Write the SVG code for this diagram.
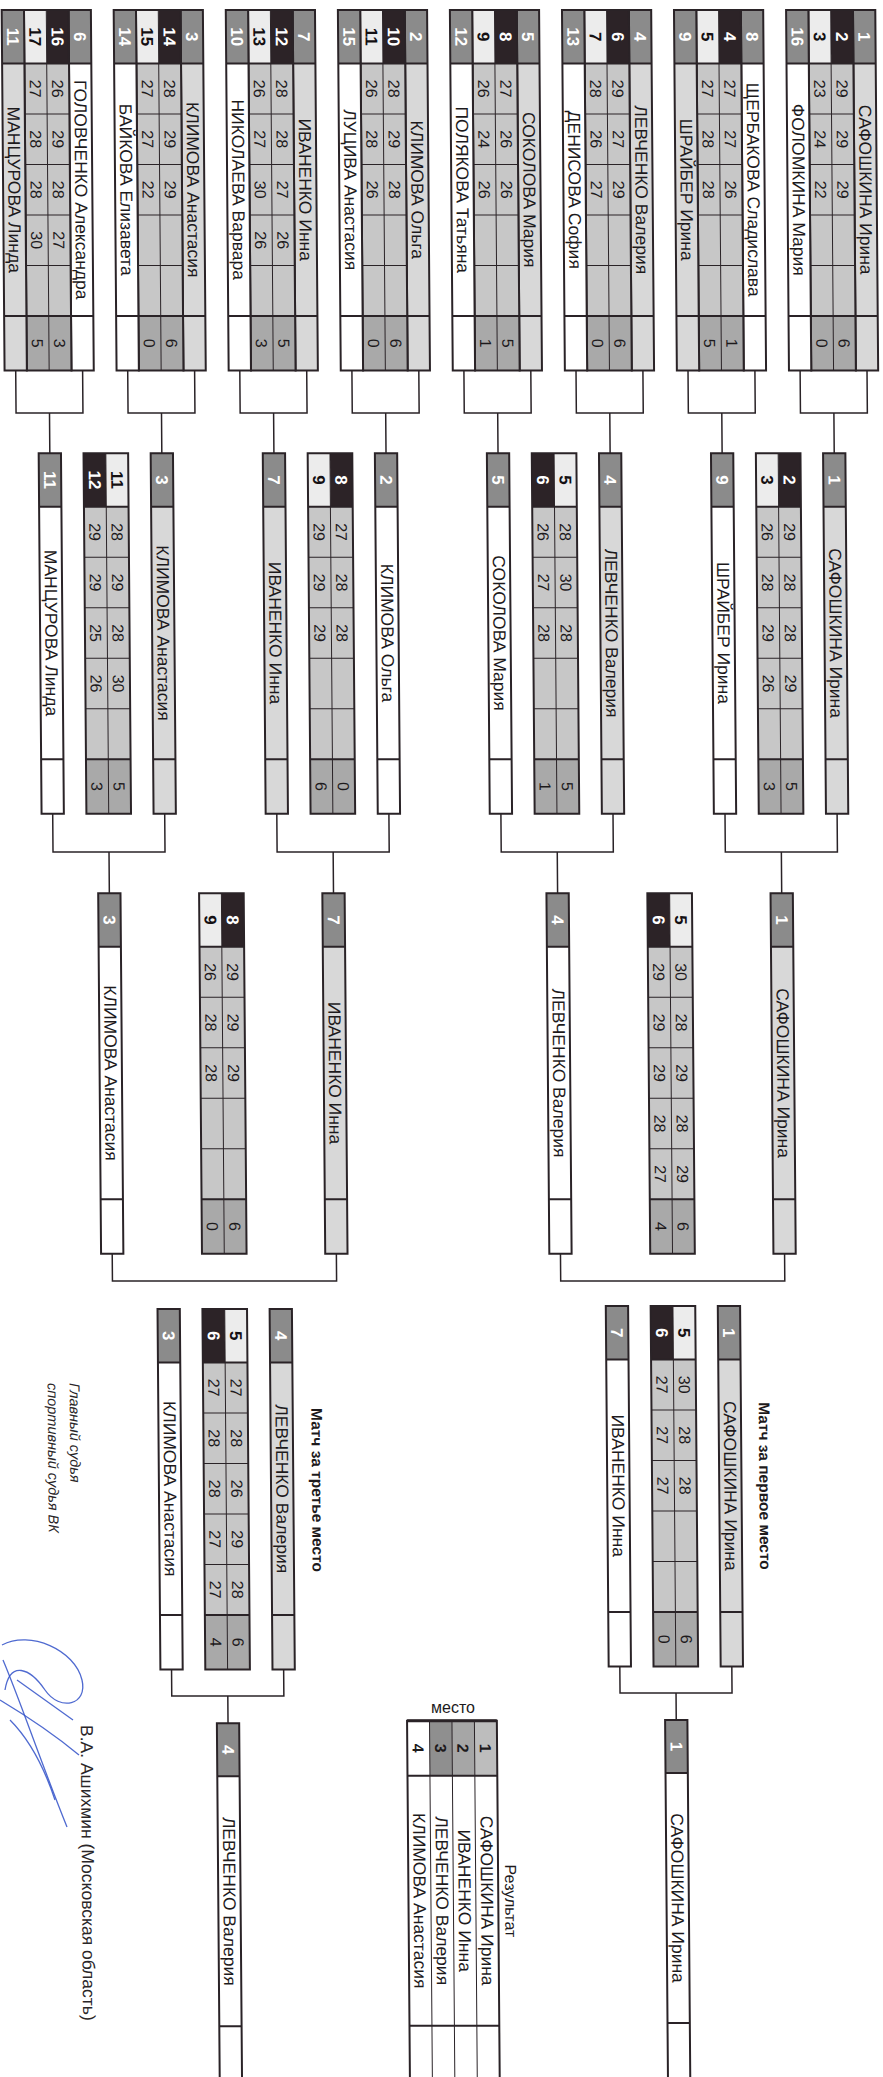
<svg xmlns="http://www.w3.org/2000/svg" width="883" height="2077" viewBox="0 0 883 2077">
<style>
.f{fill:none;stroke:#2a2327;stroke-width:2}
.t{fill:none;stroke:#2a2327;stroke-width:1}
.c{fill:none;stroke:#2a2327;stroke-width:1.5}
.gs{fill:#8b8b8b}
.ds{fill:#2c2327}
.ls{fill:#ececec}
.sc{fill:#c7c7c7}
.fc{fill:#a9a9a9}
.wn{fill:#d8d8d8}
.wh{fill:#ffffff}
text{font-family:"Liberation Sans",Arial,sans-serif;fill:#1d1a1c}
.n{font-size:17.5px;text-anchor:middle}
.s{font-size:16px;text-anchor:middle}
.sw{font-size:17px;font-weight:bold;fill:#ffffff;text-anchor:middle}
.sb{font-size:17px;font-weight:bold;fill:#141013;text-anchor:middle}
.pl{font-size:16px;font-weight:bold;text-anchor:middle}
.lbl{font-size:15.5px;font-weight:bold;text-anchor:middle}
.sig{font-size:14.5px;font-style:italic;fill:#2a2628}
.sig2{font-size:17.5px;fill:#2a2628}
.scr{fill:none;stroke:#3050c8;stroke-width:1.3;stroke-opacity:0.85}
</style>
<defs>
<g id="pW"><rect class="wn" width="360.5" height="22.3"/><rect class="gs" width="53.5" height="22.3"/><path class="f" d="M53.5 0V22.3M306 0V22.3"/><rect class="f" width="360.5" height="22.3"/></g>
<g id="pL"><rect class="wh" width="360.5" height="22.3"/><rect class="gs" width="53.5" height="22.3"/><path class="f" d="M53.5 0V22.3M306 0V22.3"/><rect class="f" width="360.5" height="22.3"/></g>
<g id="sDL"><rect class="sc" x="53.5" width="252.5" height="44.6"/><rect class="fc" x="306" width="54.5" height="44.6"/><rect class="ds" width="53.5" height="22.3"/><rect class="ls" y="22.3" width="53.5" height="22.3"/><path class="t" d="M0 22.3H360.5M104 0V44.6M154.5 0V44.6M205 0V44.6M255.5 0V44.6"/><path class="f" d="M53.5 0V44.6M306 0V44.6"/><rect class="f" width="360.5" height="44.6"/></g>
<g id="sLD"><rect class="sc" x="53.5" width="252.5" height="44.6"/><rect class="fc" x="306" width="54.5" height="44.6"/><rect class="ls" width="53.5" height="22.3"/><rect class="ds" y="22.3" width="53.5" height="22.3"/><path class="t" d="M0 22.3H360.5M104 0V44.6M154.5 0V44.6M205 0V44.6M255.5 0V44.6"/><path class="f" d="M53.5 0V44.6M306 0V44.6"/><rect class="f" width="360.5" height="44.6"/></g>
<g id="wb"><rect class="wh" width="370" height="22.3"/><rect class="gs" width="53" height="22.3"/><path class="f" d="M53 0V22.3M303 0V22.3"/><rect class="f" width="370" height="22.3"/></g>
</defs>
<rect width="883" height="2077" fill="#ffffff"/>
<g transform="matrix(0 1 -1 0 883 0)">
<g transform="translate(0 1.5) skewY(-0.458)">

<g id="connectors" class="c">
<path d="M370.5 17.45H413V84.35H370.5M413 50.9H453.3"/>
<path d="M370.5 129.55H413V196.45H370.5M413 163H453.3"/>
<path d="M370.5 241.55H413V308.45H370.5M413 275H453.3"/>
<path d="M370.5 353.65H413V420.55H370.5M413 387.1H453.3"/>
<path d="M370.5 465.65H413V532.55H370.5M413 499.1H453.3"/>
<path d="M370.5 577.75H413V644.65H370.5M413 611.2H453.3"/>
<path d="M370.5 689.85H413V756.75H370.5M413 723.3H453.3"/>
<path d="M370.5 801.85H413V868.75H370.5M413 835.3H453.3"/>
<path d="M813.8 50.9H852V163H813.8M852 106.95H893.3"/>
<path d="M813.8 275H852V387.1H813.8M852 331.05H893.3"/>
<path d="M813.8 499.1H852V611.2H813.8M852 555.15H893.3"/>
<path d="M813.8 723.3H852V835.3H813.8M852 779.3H893.3"/>
<path d="M1253.8 106.95H1281V331.05H1253.8"/>
<path d="M1253.8 555.15H1281V779.3H1253.8"/>
<path d="M1666.5 163H1693V275H1666.5M1693 219H1720"/>
<path d="M1669.5 611.2H1696V723.3H1669.5M1696 667.25H1723.3"/>
</g>

<g id="r1-m1">
<use href="#pW" x="10" y="6.3"/><use href="#sDL" x="10" y="28.6"/><use href="#pL" x="10" y="73.2"/>
<text class="sw" x="36.75" y="23.45">1</text><text class="n" x="189.75" y="23.45">САФОШКИНА Ирина</text>
<text class="sw" x="36.75" y="45.75">2</text><text class="s" y="45.75"><tspan x="88.75">29</tspan><tspan x="139.25">29</tspan><tspan x="189.75">29</tspan><tspan x="343.25">6</tspan></text>
<text class="sb" x="36.75" y="68.05">3</text><text class="s" y="68.05"><tspan x="88.75">23</tspan><tspan x="139.25">24</tspan><tspan x="189.75">22</tspan><tspan x="343.25">0</tspan></text>
<text class="sw" x="36.75" y="90.35">16</text><text class="n" x="189.75" y="90.35">ФОЛОМКИНА Мария</text>
</g>

<g id="r1-m2">
<use href="#pL" x="10" y="118.4"/><use href="#sDL" x="10" y="140.7"/><use href="#pW" x="10" y="185.3"/>
<text class="sw" x="36.75" y="135.55">8</text><text class="n" x="189.75" y="135.55">ЩЕРБАКОВА Сладислава</text>
<text class="sw" x="36.75" y="157.85">4</text><text class="s" y="157.85"><tspan x="88.75">27</tspan><tspan x="139.25">27</tspan><tspan x="189.75">26</tspan><tspan x="343.25">1</tspan></text>
<text class="sb" x="36.75" y="180.15">5</text><text class="s" y="180.15"><tspan x="88.75">27</tspan><tspan x="139.25">28</tspan><tspan x="189.75">28</tspan><tspan x="343.25">5</tspan></text>
<text class="sw" x="36.75" y="202.45">9</text><text class="n" x="189.75" y="202.45">ШРАЙБЕР Ирина</text>
</g>

<g id="r1-m3">
<use href="#pW" x="10" y="230.4"/><use href="#sDL" x="10" y="252.7"/><use href="#pL" x="10" y="297.3"/>
<text class="sw" x="36.75" y="247.55">4</text><text class="n" x="189.75" y="247.55">ЛЕВЧЕНКО Валерия</text>
<text class="sw" x="36.75" y="269.85">6</text><text class="s" y="269.85"><tspan x="88.75">29</tspan><tspan x="139.25">27</tspan><tspan x="189.75">29</tspan><tspan x="343.25">6</tspan></text>
<text class="sb" x="36.75" y="292.15">7</text><text class="s" y="292.15"><tspan x="88.75">28</tspan><tspan x="139.25">26</tspan><tspan x="189.75">27</tspan><tspan x="343.25">0</tspan></text>
<text class="sw" x="36.75" y="314.45">13</text><text class="n" x="189.75" y="314.45">ДЕНИСОВА София</text>
</g>

<g id="r1-m4">
<use href="#pW" x="10" y="342.5"/><use href="#sDL" x="10" y="364.8"/><use href="#pL" x="10" y="409.4"/>
<text class="sw" x="36.75" y="359.65">5</text><text class="n" x="189.75" y="359.65">СОКОЛОВА Мария</text>
<text class="sw" x="36.75" y="381.95">8</text><text class="s" y="381.95"><tspan x="88.75">27</tspan><tspan x="139.25">26</tspan><tspan x="189.75">26</tspan><tspan x="343.25">5</tspan></text>
<text class="sb" x="36.75" y="404.25">9</text><text class="s" y="404.25"><tspan x="88.75">26</tspan><tspan x="139.25">24</tspan><tspan x="189.75">26</tspan><tspan x="343.25">1</tspan></text>
<text class="sw" x="36.75" y="426.55">12</text><text class="n" x="189.75" y="426.55">ПОЛЯКОВА Татьяна</text>
</g>

<g id="r1-m5">
<use href="#pW" x="10" y="454.5"/><use href="#sDL" x="10" y="476.8"/><use href="#pL" x="10" y="521.4"/>
<text class="sw" x="36.75" y="471.65">2</text><text class="n" x="189.75" y="471.65">КЛИМОВА Ольга</text>
<text class="sw" x="36.75" y="493.95">10</text><text class="s" y="493.95"><tspan x="88.75">28</tspan><tspan x="139.25">29</tspan><tspan x="189.75">28</tspan><tspan x="343.25">6</tspan></text>
<text class="sb" x="36.75" y="516.25">11</text><text class="s" y="516.25"><tspan x="88.75">26</tspan><tspan x="139.25">28</tspan><tspan x="189.75">26</tspan><tspan x="343.25">0</tspan></text>
<text class="sw" x="36.75" y="538.55">15</text><text class="n" x="189.75" y="538.55">ЛУЦИВА Анастасия</text>
</g>

<g id="r1-m6">
<use href="#pW" x="10" y="566.6"/><use href="#sDL" x="10" y="588.9"/><use href="#pL" x="10" y="633.5"/>
<text class="sw" x="36.75" y="583.75">7</text><text class="n" x="189.75" y="583.75">ИВАНЕНКО Инна</text>
<text class="sw" x="36.75" y="606.05">12</text><text class="s" y="606.05"><tspan x="88.75">28</tspan><tspan x="139.25">28</tspan><tspan x="189.75">27</tspan><tspan x="240.25">26</tspan><tspan x="343.25">5</tspan></text>
<text class="sb" x="36.75" y="628.35">13</text><text class="s" y="628.35"><tspan x="88.75">26</tspan><tspan x="139.25">27</tspan><tspan x="189.75">30</tspan><tspan x="240.25">26</tspan><tspan x="343.25">3</tspan></text>
<text class="sw" x="36.75" y="650.65">10</text><text class="n" x="189.75" y="650.65">НИКОЛАЕВА Варвара</text>
</g>

<g id="r1-m7">
<use href="#pW" x="10" y="678.7"/><use href="#sDL" x="10" y="701"/><use href="#pL" x="10" y="745.6"/>
<text class="sw" x="36.75" y="695.85">3</text><text class="n" x="189.75" y="695.85">КЛИМОВА Анастасия</text>
<text class="sw" x="36.75" y="718.15">14</text><text class="s" y="718.15"><tspan x="88.75">28</tspan><tspan x="139.25">29</tspan><tspan x="189.75">29</tspan><tspan x="343.25">6</tspan></text>
<text class="sb" x="36.75" y="740.45">15</text><text class="s" y="740.45"><tspan x="88.75">27</tspan><tspan x="139.25">27</tspan><tspan x="189.75">22</tspan><tspan x="343.25">0</tspan></text>
<text class="sw" x="36.75" y="762.75">14</text><text class="n" x="189.75" y="762.75">БАЙКОВА Елизавета</text>
</g>

<g id="r1-m8">
<use href="#pL" x="10" y="790.7"/><use href="#sDL" x="10" y="813"/><use href="#pW" x="10" y="857.6"/>
<text class="sw" x="36.75" y="807.85">6</text><text class="n" x="189.75" y="807.85">ГОЛОВЧЕНКО Александра</text>
<text class="sw" x="36.75" y="830.15">16</text><text class="s" y="830.15"><tspan x="88.75">26</tspan><tspan x="139.25">29</tspan><tspan x="189.75">28</tspan><tspan x="240.25">27</tspan><tspan x="343.25">3</tspan></text>
<text class="sb" x="36.75" y="852.45">17</text><text class="s" y="852.45"><tspan x="88.75">27</tspan><tspan x="139.25">28</tspan><tspan x="189.75">28</tspan><tspan x="240.25">30</tspan><tspan x="343.25">5</tspan></text>
<text class="sw" x="36.75" y="874.75">11</text><text class="n" x="189.75" y="874.75">МАНЦУРОВА Линда</text>
</g>

<g id="r2-m1">
<use href="#pW" x="453.3" y="39.75"/><use href="#sDL" x="453.3" y="84.65"/><use href="#pL" x="453.3" y="151.85"/>
<text class="sw" x="480.05" y="56.9">1</text><text class="n" x="633.05" y="56.9">САФОШКИНА Ирина</text>
<text class="sw" x="480.05" y="101.8">2</text><text class="s" y="101.8"><tspan x="532.05">29</tspan><tspan x="582.55">28</tspan><tspan x="633.05">28</tspan><tspan x="683.55">29</tspan><tspan x="786.55">5</tspan></text>
<text class="sb" x="480.05" y="124.1">3</text><text class="s" y="124.1"><tspan x="532.05">26</tspan><tspan x="582.55">28</tspan><tspan x="633.05">29</tspan><tspan x="683.55">26</tspan><tspan x="786.55">3</tspan></text>
<text class="sw" x="480.05" y="169">9</text><text class="n" x="633.05" y="169">ШРАЙБЕР Ирина</text>
</g>

<g id="r2-m2">
<use href="#pW" x="453.3" y="263.85"/><use href="#sLD" x="453.3" y="308.75"/><use href="#pL" x="453.3" y="375.95"/>
<text class="sw" x="480.05" y="281">4</text><text class="n" x="633.05" y="281">ЛЕВЧЕНКО Валерия</text>
<text class="sb" x="480.05" y="325.9">5</text><text class="s" y="325.9"><tspan x="532.05">28</tspan><tspan x="582.55">30</tspan><tspan x="633.05">28</tspan><tspan x="786.55">5</tspan></text>
<text class="sw" x="480.05" y="348.2">6</text><text class="s" y="348.2"><tspan x="532.05">26</tspan><tspan x="582.55">27</tspan><tspan x="633.05">28</tspan><tspan x="786.55">1</tspan></text>
<text class="sw" x="480.05" y="393.1">5</text><text class="n" x="633.05" y="393.1">СОКОЛОВА Мария</text>
</g>

<g id="r2-m3">
<use href="#pL" x="453.3" y="487.95"/><use href="#sDL" x="453.3" y="532.85"/><use href="#pW" x="453.3" y="600.05"/>
<text class="sw" x="480.05" y="505.1">2</text><text class="n" x="633.05" y="505.1">КЛИМОВА Ольга</text>
<text class="sw" x="480.05" y="550">8</text><text class="s" y="550"><tspan x="532.05">27</tspan><tspan x="582.55">28</tspan><tspan x="633.05">28</tspan><tspan x="786.55">0</tspan></text>
<text class="sb" x="480.05" y="572.3">9</text><text class="s" y="572.3"><tspan x="532.05">29</tspan><tspan x="582.55">29</tspan><tspan x="633.05">29</tspan><tspan x="786.55">6</tspan></text>
<text class="sw" x="480.05" y="617.2">7</text><text class="n" x="633.05" y="617.2">ИВАНЕНКО Инна</text>
</g>

<g id="r2-m4">
<use href="#pW" x="453.3" y="712.15"/><use href="#sLD" x="453.3" y="757"/><use href="#pL" x="453.3" y="824.15"/>
<text class="sw" x="480.05" y="729.3">3</text><text class="n" x="633.05" y="729.3">КЛИМОВА Анастасия</text>
<text class="sb" x="480.05" y="774.15">11</text><text class="s" y="774.15"><tspan x="532.05">28</tspan><tspan x="582.55">29</tspan><tspan x="633.05">28</tspan><tspan x="683.55">30</tspan><tspan x="786.55">5</tspan></text>
<text class="sw" x="480.05" y="796.45">12</text><text class="s" y="796.45"><tspan x="532.05">29</tspan><tspan x="582.55">29</tspan><tspan x="633.05">25</tspan><tspan x="683.55">26</tspan><tspan x="786.55">3</tspan></text>
<text class="sw" x="480.05" y="841.3">11</text><text class="n" x="633.05" y="841.3">МАНЦУРОВА Линда</text>
</g>

<g id="r3-m1">
<use href="#pW" x="893.3" y="95.8"/><use href="#sLD" x="893.3" y="196.7"/><use href="#pL" x="893.3" y="319.9"/>
<text class="sw" x="920.05" y="112.95">1</text><text class="n" x="1073.05" y="112.95">САФОШКИНА Ирина</text>
<text class="sb" x="920.05" y="213.85">5</text><text class="s" y="213.85"><tspan x="972.05">30</tspan><tspan x="1022.55">28</tspan><tspan x="1073.05">29</tspan><tspan x="1123.55">28</tspan><tspan x="1174.05">29</tspan><tspan x="1226.55">6</tspan></text>
<text class="sw" x="920.05" y="236.15">6</text><text class="s" y="236.15"><tspan x="972.05">29</tspan><tspan x="1022.55">29</tspan><tspan x="1073.05">29</tspan><tspan x="1123.55">28</tspan><tspan x="1174.05">27</tspan><tspan x="1226.55">4</tspan></text>
<text class="sw" x="920.05" y="337.05">4</text><text class="n" x="1073.05" y="337.05">ЛЕВЧЕНКО Валерия</text>
</g>

<g id="r3-m2">
<use href="#pW" x="893.3" y="544"/><use href="#sDL" x="893.3" y="644.95"/><use href="#pL" x="893.3" y="768.15"/>
<text class="sw" x="920.05" y="561.15">7</text><text class="n" x="1073.05" y="561.15">ИВАНЕНКО Инна</text>
<text class="sw" x="920.05" y="662.1">8</text><text class="s" y="662.1"><tspan x="972.05">29</tspan><tspan x="1022.55">29</tspan><tspan x="1073.05">29</tspan><tspan x="1226.55">6</tspan></text>
<text class="sb" x="920.05" y="684.4">9</text><text class="s" y="684.4"><tspan x="972.05">26</tspan><tspan x="1022.55">28</tspan><tspan x="1073.05">28</tspan><tspan x="1226.55">0</tspan></text>
<text class="sw" x="920.05" y="785.3">3</text><text class="n" x="1073.05" y="785.3">КЛИМОВА Анастасия</text>
</g>

<g id="final">
<text class="lbl" x="1486" y="134">Матч за первое место</text>
<use href="#pW" x="1306" y="151.85"/><use href="#sLD" x="1306" y="196.7"/><use href="#pL" x="1306" y="263.85"/>
<text class="sw" x="1332.75" y="169">1</text><text class="n" x="1485.75" y="169">САФОШКИНА Ирина</text>
<text class="sb" x="1332.75" y="213.85">5</text><text class="s" y="213.85"><tspan x="1384.75">30</tspan><tspan x="1435.25">28</tspan><tspan x="1485.75">28</tspan><tspan x="1639.25">6</tspan></text>
<text class="sw" x="1332.75" y="236.15">6</text><text class="s" y="236.15"><tspan x="1384.75">27</tspan><tspan x="1435.25">27</tspan><tspan x="1485.75">27</tspan><tspan x="1639.25">0</tspan></text>
<text class="sw" x="1332.75" y="281">7</text><text class="n" x="1485.75" y="281">ИВАНЕНКО Инна</text>
</g>

<g id="third">
<text class="lbl" x="1490" y="581.4">Матч за третье место</text>
<use href="#pW" x="1309" y="600.05"/><use href="#sLD" x="1309" y="644.95"/><use href="#pL" x="1309" y="712.15"/>
<text class="sw" x="1335.75" y="617.2">4</text><text class="n" x="1488.75" y="617.2">ЛЕВЧЕНКО Валерия</text>
<text class="sb" x="1335.75" y="662.1">5</text><text class="s" y="662.1"><tspan x="1387.75">27</tspan><tspan x="1438.25">28</tspan><tspan x="1488.75">26</tspan><tspan x="1539.25">29</tspan><tspan x="1589.75">28</tspan><tspan x="1642.25">6</tspan></text>
<text class="sw" x="1335.75" y="684.4">6</text><text class="s" y="684.4"><tspan x="1387.75">27</tspan><tspan x="1438.25">28</tspan><tspan x="1488.75">28</tspan><tspan x="1539.25">27</tspan><tspan x="1589.75">27</tspan><tspan x="1642.25">4</tspan></text>
<text class="sw" x="1335.75" y="729.3">3</text><text class="n" x="1488.75" y="729.3">КЛИМОВА Анастасия</text>
</g>

<g id="winner-1">
<use href="#wb" x="1720" y="207.85"/>
<text class="sw" x="1746.5" y="225">1</text><text class="n" x="1898" y="225">САФОШКИНА Ирина</text>
</g>

<g id="winner-3">
<use href="#wb" x="1723.3" y="656.1"/>
<text class="sw" x="1749.8" y="673.25">4</text><text class="n" x="1901.3" y="673.25">ЛЕВЧЕНКО Валерия</text>
</g>

<g id="results">
<text class="s" x="1901" y="391.5">Результат</text>
<rect x="1720.7" y="398.4" width="55" height="22.45" fill="#bdbdbd"/>
<rect x="1720.7" y="420.85" width="55" height="22.45" fill="#a6a6a6"/>
<rect x="1720.7" y="443.3" width="55" height="22.45" fill="#8f8f8f"/>
<path class="t" d="M1720.7 420.85H2095M1720.7 443.3H2095M1720.7 465.75H2095"/>
<path class="f" d="M1775.7 398.4V488.2M2025.7 398.4V488.2"/>
<rect class="f" x="1720.7" y="398.4" width="374.3" height="89.8"/>
<path fill="none" stroke="#2a2327" stroke-width="3" d="M1720.7 398.4V488.2"/>
<text class="pl" x="1748.2" y="415.6">1</text><text class="n" x="1900.7" y="415.6">САФОШКИНА Ирина</text>
<text class="pl" x="1748.2" y="438.1">2</text><text class="n" x="1900.7" y="438.1">ИВАНЕНКО Инна</text>
<text class="pl" x="1748.2" y="460.5">3</text><text class="n" x="1900.7" y="460.5">ЛЕВЧЕНКО Валерия</text>
<text class="pl" x="1748.2" y="483">4</text><text class="n" x="1900.7" y="483">КЛИМОВА Анастасия</text>
</g>

<g id="signature-text">
<text class="sig" x="1383" y="823">Главный судья</text>
<text class="sig" x="1383" y="845">спортивный судья ВК</text>
<text class="sig2" x="1725" y="814.6">В.А. Ашихмин (Московская область)</text>
</g>

</g>
</g>
<text x="453" y="1713" style="font-size:16px;text-anchor:middle">место</text>
<g id="signature">
<path class="scr" d="M2 1645C30 1630 75 1650 82 1680C88 1705 60 1712 45 1690C30 1668 10 1660 5 1690"/>
<path class="scr" d="M0 1700C25 1715 55 1735 79 1755"/>
<path class="scr" d="M3 1660C20 1700 40 1760 67 1827"/>
<path class="scr" d="M17 1680L73 1720"/>
<path class="scr" d="M10 1720C30 1740 45 1770 55 1800"/>
</g>
</svg>
